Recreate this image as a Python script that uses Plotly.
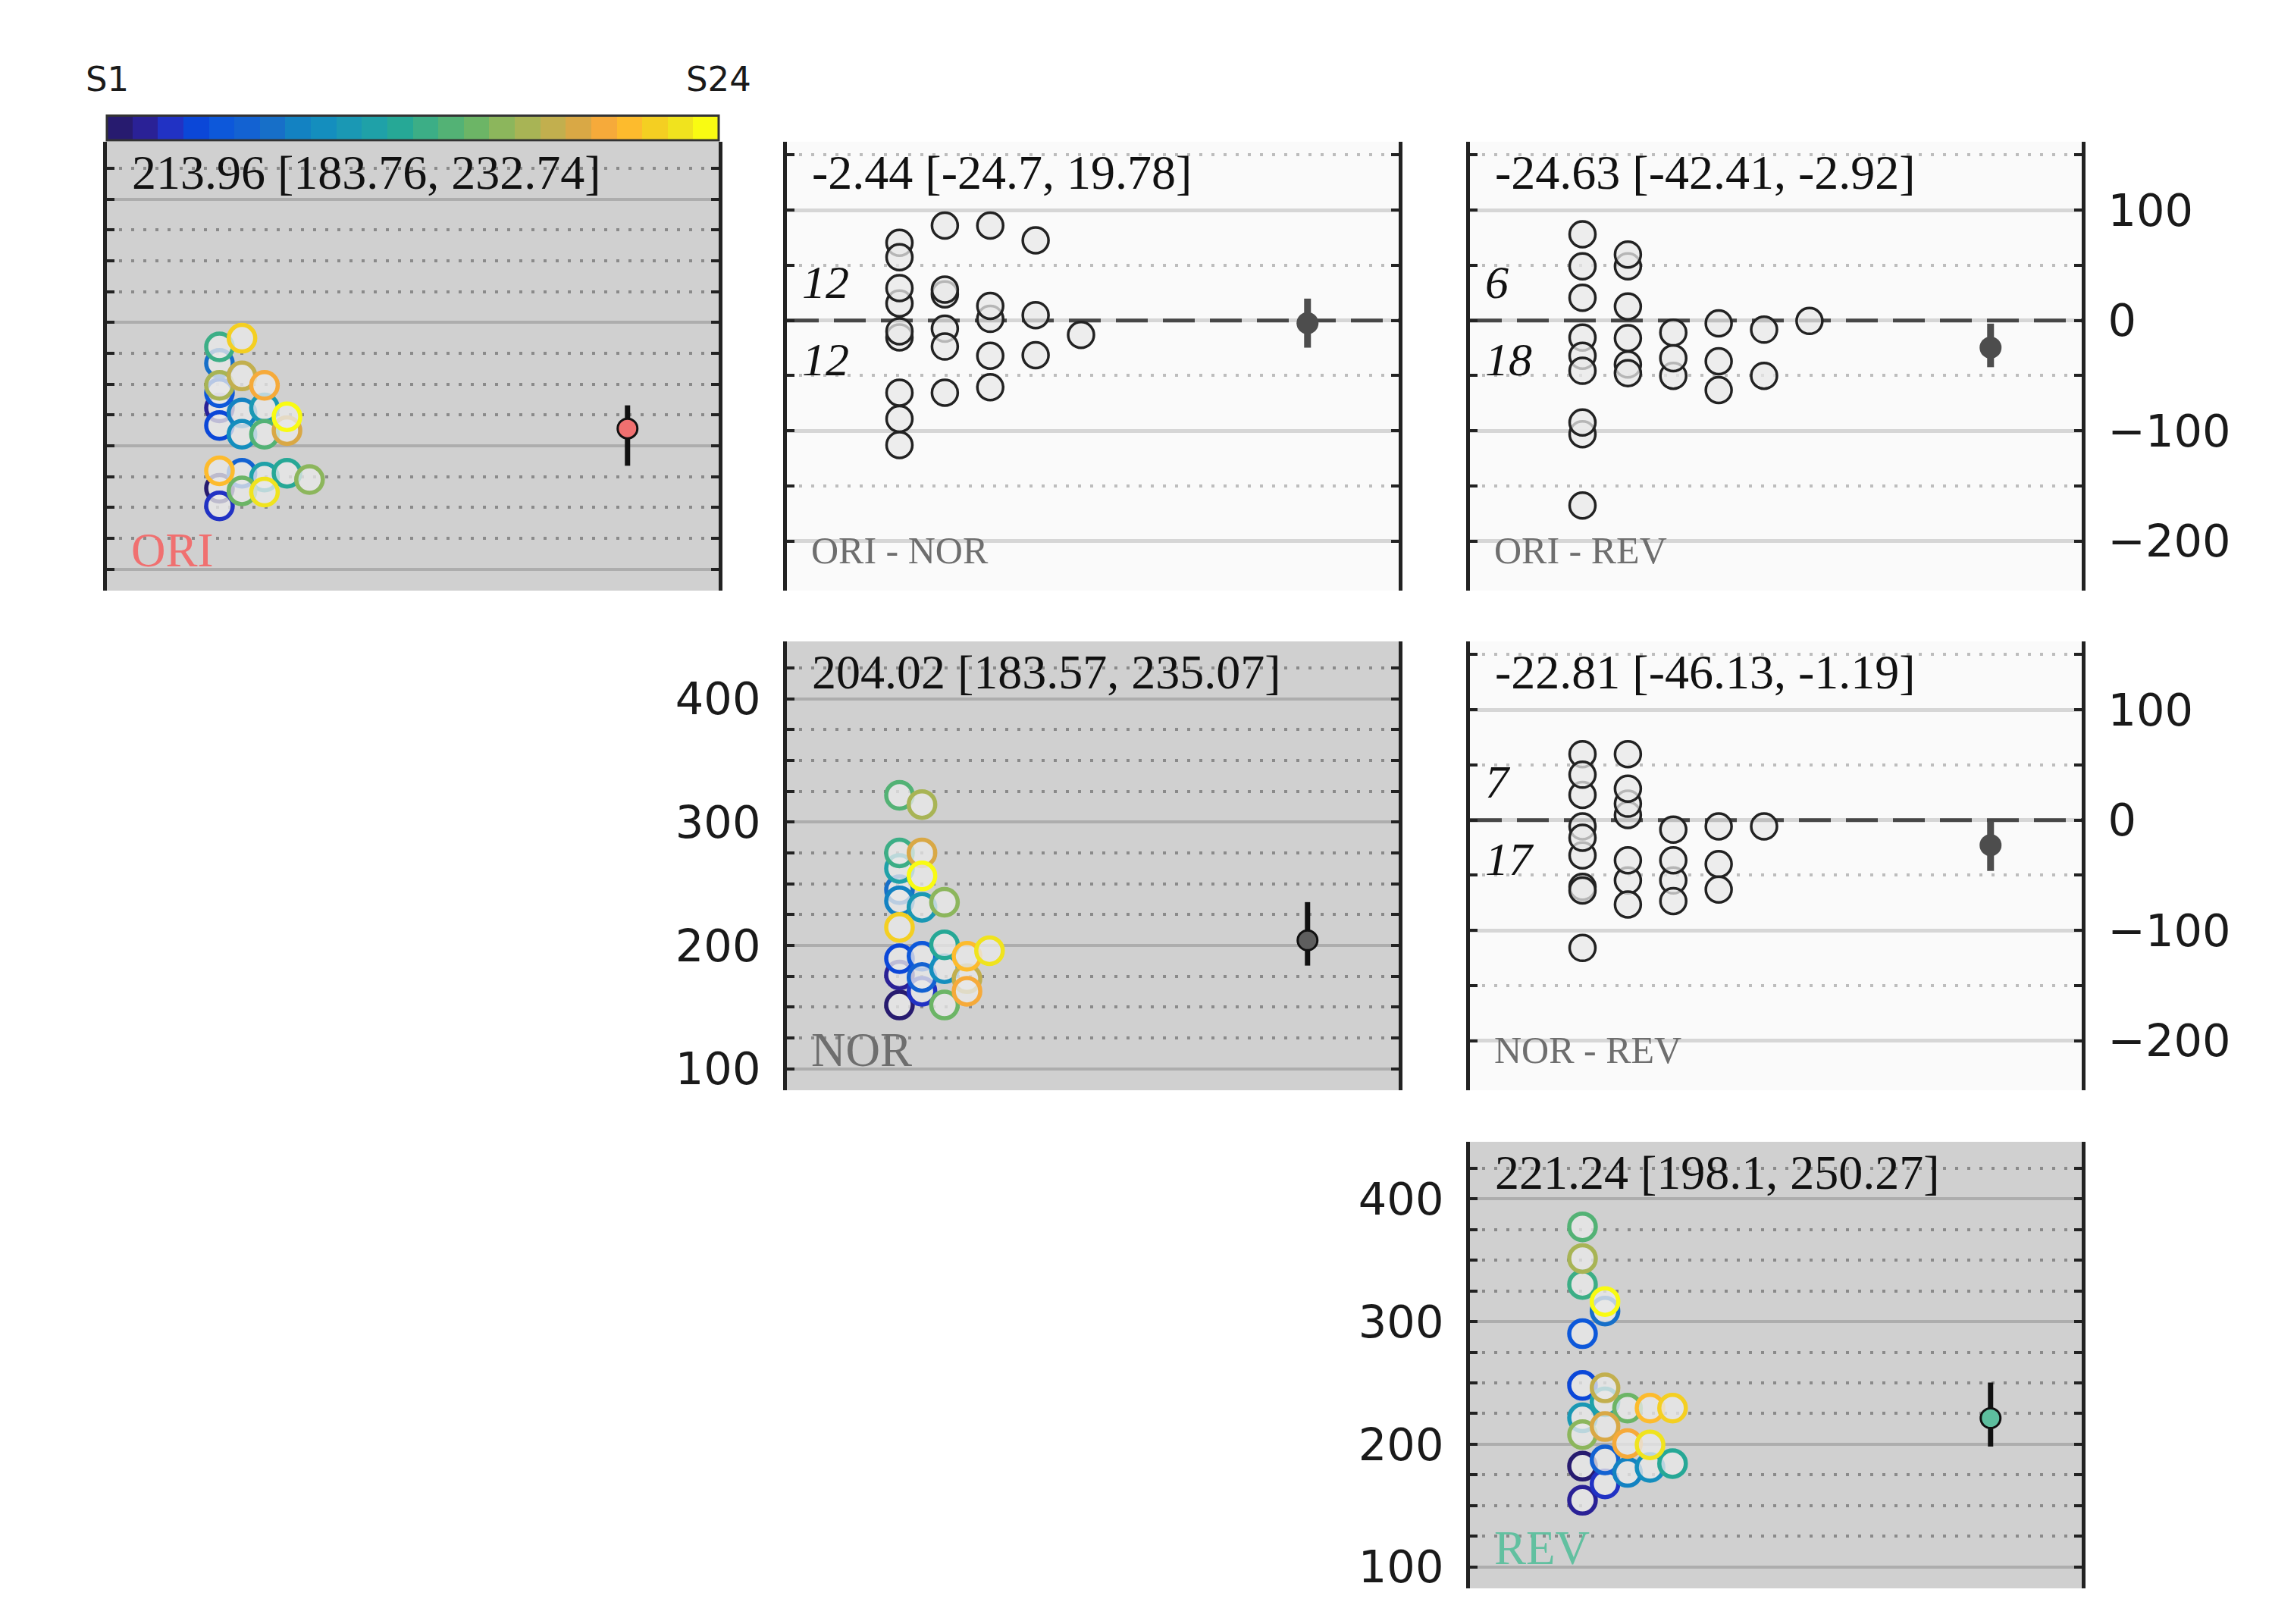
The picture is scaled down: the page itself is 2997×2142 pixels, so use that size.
import plotly.graph_objects as go

# subjects and their colours (S1 .. S24)
SUBJECTS = [f"S{i}" for i in range(1, 25)]
SUBJ_COLORS = ["#271B6F", "#2A2196", "#2132C4", "#0B47D8", "#0D58DA", "#1362D2",
               "#176FC8", "#1382C2", "#148EBE", "#1A98B4", "#1FA1A8", "#26A896",
               "#3CAE86", "#53B275", "#6CB566", "#8CB65C", "#A8B455", "#C2AF4E",
               "#D9A845", "#F6AA3A", "#FDBB2D", "#F4CF22", "#F0E31E", "#F9FB12"]

# condition values, one per subject
ORI = [165.5, 230.7, 151.2, 216.4, 243.0, 177.7, 266.8, 226.6, 209.3, 230.7, 174.6, 177.7,
       280.2, 209.3, 163.4, 172.6, 249.0, 256.6, 212.3, 249.0, 179.7, 287.2, 162.4, 223.5]
NOR = [151.6, 176.0, 162.8, 189.2, 191.2, 174.0, 245.1, 236.0, 181.1, 230.9, 262.4, 200.4,
       275.0, 321.7, 151.6, 235.0, 314.2, 173.0, 275.0, 162.8, 191.2, 214.6, 195.7, 256.3]
REV = [182.1, 154.3, 167.7, 247.9, 290.1, 187.2, 308.6, 177.0, 181.1, 221.5, 234.6, 184.2,
       330.2, 377.2, 229.4, 207.8, 351.4, 245.9, 214.4, 200.6, 229.4, 229.4, 199.5, 316.3]

# paired differences, one per subject
ORI_NOR = [15.4, 70.4, -15.3, 29.3, 57.3, -9.8, 23.7, -7.5, 27.9, 1.4, -89.3, -23.7,
           4.8, -113.0, 13.1, -65.6, -65.6, 86.0, -60.6, 86.0, -13.2, 72.6, -32.1, -31.5]
ORI_REV = [-15.5, 78.1, -16.0, -32.0, -45.7, -11.0, -40.0, 49.1, 20.5, -2.7, -47.9, -8.4,
           -50.2, -167.8, -63.2, -34.2, -103.2, 12.6, -0.5, 49.1, -50.2, 59.8, -37.0, -92.5]
NOR_REV = [-32.0, 22.8, -5.7, -60.5, -116.0, 4.6, -63.9, 59.8, -8.7, -5.7, 41.1, 14.8,
           -54.8, -54.8, -76.5, 28.5, -36.5, -73.5, 59.8, -36.5, -40.0, -16.0, -5.7, -63.0]

# estimate and interval shown in each panel
PANEL_NAMES = ["ORI", "ORI - NOR", "ORI - REV", "NOR", "NOR - REV", "REV"]
EST = [213.96, -2.44, -24.63, 204.02, -22.81, 221.24]
CI_LO = [183.76, -24.7, -42.41, 183.57, -46.13, 198.1]
CI_HI = [232.74, 19.78, -2.92, 235.07, -1.19, 250.27]

COND_COLORS = {"ORI": "#F07070", "NOR": "#6E6E6E", "REV": "#62C0A0"}
MEAN_FILL = {"ORI": "#F07070", "NOR": "#5E5E5E", "REV": "#5DBE9E"}

# page is 2997x2142, the html body adds an 8px margin round the plot div
PAGE_W, PAGE_H, OFF = 2997, 2142, 8
W, H = PAGE_W - 2 * OFF, PAGE_H - 2 * OFF
COLS_PX = [(141, 948), (1038, 1845), (1939, 2746)]
ROWS_PX = [(187, 779), (846, 1438), (1506, 2095)]

X0, MEAN_X = 0.184, 0.851
DX = {"diag": 0.0368, "diff": 0.0742}


def swarm_cols(vals, nbins=10):
    # one-sided swarm: equal bins over the data range, stacked to the right
    lo, hi = min(vals), max(vals)
    w = (hi - lo) / nbins
    used, cols = {}, []
    for v in vals:
        b = min(int((v - lo) // w), nbins - 1)
        cols.append(used.get(b, 0))
        used[b] = used.get(b, 0) + 1
    return cols


def px_x(p):
    return (p - OFF) / W


def px_y(p):
    return 1 - (p - OFF) / H


def xdom(c):
    return [px_x(COLS_PX[c][0]), px_x(COLS_PX[c][1])]


def ydom(r):
    return [px_y(ROWS_PX[r][1]), px_y(ROWS_PX[r][0])]


panels = [
    (ORI, 0, 0, "diag", None),
    (ORI_NOR, 0, 1, "diff", None),
    (ORI_REV, 0, 2, "diff", "right"),
    (NOR, 1, 1, "diag", "left"),
    (NOR_REV, 1, 2, "diff", "right"),
    (REV, 2, 2, "diag", "left"),
]

fig = go.Figure()
shapes, annotations = [], []
layout_axes = {}

for i, (vals, r, c, kind, side) in enumerate(panels):
    k = i + 1
    xn = "x" if k == 1 else f"x{k}"
    yn = "y" if k == 1 else f"y{k}"
    name = PANEL_NAMES[i]

    cols = swarm_cols(vals)
    xs = [X0 + cc * DX[kind] for cc in cols]
    err = dict(type="data", symmetric=False, array=[CI_HI[i] - EST[i]],
               arrayminus=[EST[i] - CI_LO[i]], width=0)

    if kind == "diag":
        fig.add_trace(go.Scatter(
            x=xs, y=vals, mode="markers", xaxis=xn, yaxis=yn, text=SUBJECTS,
            marker=dict(size=35, color="rgba(232,232,232,0.78)",
                        line=dict(color=SUBJ_COLORS, width=5.5))))
        fig.add_trace(go.Scatter(
            x=[MEAN_X], y=[EST[i]], mode="markers", xaxis=xn, yaxis=yn,
            error_y=dict(err, thickness=7, color="#111111"),
            marker=dict(size=26, color=MEAN_FILL[name], line=dict(color="#111111", width=3))))
        bg, grid, mgrid, gw = "#D0D0D0", "#ADADAD", "#8A8A8A", 4
        yrange, dmaj, dmin = [82.5, 446.5], 100, 25
        lab_color, lab_size = COND_COLORS[name], 63
    else:
        # dashed reference line at zero difference
        fig.add_trace(go.Scatter(
            x=[0, 1], y=[0, 0], mode="lines", xaxis=xn, yaxis=yn, hoverinfo="skip",
            line=dict(color="#474747", width=5, dash="42px,20px")))
        fig.add_trace(go.Scatter(
            x=xs, y=vals, mode="markers", xaxis=xn, yaxis=yn, text=SUBJECTS,
            marker=dict(size=34, color="rgba(232,232,232,0.75)",
                        line=dict(color="#222222", width=3.5))))
        fig.add_trace(go.Scatter(
            x=[MEAN_X], y=[EST[i]], mode="markers", xaxis=xn, yaxis=yn,
            error_y=dict(err, thickness=9, color="#4D4D4D"),
            marker=dict(size=29, color="#4D4D4D")))
        bg, grid, mgrid, gw = "#FAFAFA", "#D6D6D6", "#BDBDBD", 5
        yrange, dmaj, dmin = [-245, 162], 100, 50
        lab_color, lab_size = "#6E6E6E", 50
        npos = sum(1 for v in vals if v > 0)
        nneg = sum(1 for v in vals if v < 0)
        for txt, yy in [(npos, 35), (nneg, -35)]:
            annotations.append(dict(text=f"<i>{txt}</i>", xref=f"{xn} domain", yref=yn,
                                    x=0.022, y=yy, xanchor="left", yanchor="middle",
                                    showarrow=False,
                                    font=dict(family="Liberation Serif", size=62,
                                              color="#111111")))

    shapes.append(dict(type="rect", xref=f"{xn} domain", yref=f"{yn} domain",
                       x0=0, x1=1, y0=0, y1=1, fillcolor=bg, line=dict(width=0),
                       layer="below"))

    annotations.append(dict(
        text=f"{EST[i]:g} [{CI_LO[i]:g}, {CI_HI[i]:g}]", xref=f"{xn} domain",
        yref=f"{yn} domain", x=0.038, y=0.932, xanchor="left", yanchor="middle",
        showarrow=False, font=dict(family="Liberation Serif", size=64, color="#111111")))
    annotations.append(dict(
        text=name, xref=f"{xn} domain", yref=f"{yn} domain", x=0.037, y=0.09,
        xanchor="left", yanchor="middle", showarrow=False,
        font=dict(family="Liberation Serif", size=lab_size, color=lab_color)))

    xkey = "xaxis" if k == 1 else f"xaxis{k}"
    ykey = "yaxis" if k == 1 else f"yaxis{k}"
    layout_axes[xkey] = dict(domain=xdom(c), range=[0, 1], anchor=yn, visible=False,
                             fixedrange=True)
    layout_axes[ykey] = dict(
        domain=ydom(r), range=yrange, anchor=xn, side=side or "left",
        showticklabels=side is not None, tick0=0, dtick=dmaj,
        showgrid=True, gridcolor=grid, gridwidth=gw, zeroline=False,
        showline=True, linecolor="#222222", linewidth=4.5, mirror="ticks",
        ticks="inside", ticklen=10, tickwidth=4, tickcolor="#222222",
        ticklabelstandoff=18,
        tickfont=dict(family="DejaVu Sans", size=59, color="#1A1A1A"),
        minor=dict(dtick=dmin, tick0=0, showgrid=True, gridcolor=mgrid, gridwidth=4,
                   griddash="4px,12px", ticks="inside", ticklen=10, tickwidth=4,
                   tickcolor="#222222"),
        fixedrange=True)

# subject colour key above the ORI panel
fig.add_trace(go.Heatmap(
    z=[list(range(len(SUBJECTS)))], x=SUBJECTS, y=[0], xaxis="x7", yaxis="y7",
    colorscale=[[j / (len(SUBJ_COLORS) - 1), col] for j, col in enumerate(SUBJ_COLORS)],
    zmin=0, zmax=len(SUBJECTS) - 1, showscale=False, hoverinfo="x"))
layout_axes["xaxis7"] = dict(domain=xdom(0), range=[-0.5, 23.5], anchor="y7",
                             visible=False, type="category")
layout_axes["yaxis7"] = dict(domain=[px_y(185), px_y(152.5)], range=[-0.5, 0.5],
                             anchor="x7", visible=False)
shapes.append(dict(type="rect", xref="x7 domain", yref="y7 domain", x0=0, x1=1, y0=0, y1=1,
                   line=dict(color="#333333", width=3), layer="above"))
for xx, txt in [(0, SUBJECTS[0]), (1, SUBJECTS[-1])]:
    annotations.append(dict(text=txt, xref="x7 domain", yref="paper", x=xx, y=px_y(104),
                            xanchor="center", yanchor="middle", showarrow=False,
                            font=dict(family="DejaVu Sans", size=45, color="#1A1A1A")))

fig.update_layout(
    template="none", width=W, height=H, autosize=False, showlegend=False,
    margin=dict(l=0, r=0, t=0, b=0, pad=0),
    paper_bgcolor="white", plot_bgcolor="rgba(0,0,0,0)",
    shapes=shapes, annotations=annotations, **layout_axes)

fig.write_html("out.html")
